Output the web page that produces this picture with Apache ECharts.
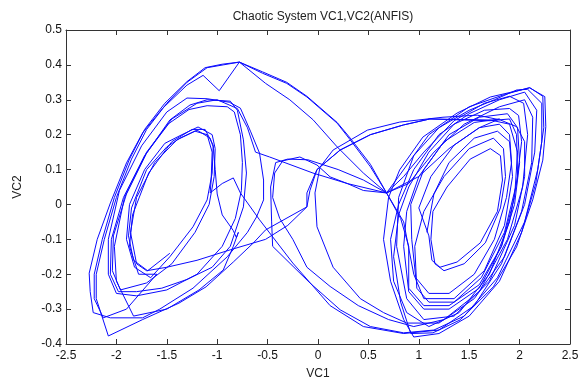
<!DOCTYPE html>
<html><head><meta charset="utf-8">
<script src="https://cdn.jsdelivr.net/npm/echarts@6/dist/echarts.min.js"></script>
<style>html,body{margin:0;padding:0;background:#fff}#c{width:584px;height:381px}</style>
</head><body><div id="c"></div>
<script>
const titleText = "Chaotic System VC1,VC2(ANFIS)";
const xName = "VC1", yName = "VC2";
const xTicks = [-2.5,-2,-1.5,-1,-0.5,0,0.5,1,1.5,2,2.5];
const yTicks = [-0.4,-0.3,-0.2,-0.1,0,0.1,0.2,0.3,0.4,0.5];

// trajectory segments (VC1, VC2), in drawing order
const leftInner = [[-1.47,-0.14],[-1.69,-0.19],[-1.83,-0.16],[-1.88,-0.09],[-1.85,-0.01],[-1.70,0.10],[-1.50,0.165],[-1.37,0.19],[-1.20,0.213],[-1.07,0.19],[-1.04,0.165],[-1.05,0.09],[-1.10,0.013],[-1.24,-0.064],[-1.47,-0.15],[-1.66,-0.21],[-1.82,-0.18],[-1.90,-0.10],[-1.87,0.0],[-1.72,0.10],[-1.52,0.175],[-1.35,0.20],[-1.19,0.222],[-1.05,0.20],[-1.02,0.16],[-1.03,0.08],[-1.08,0.0],[-1.22,-0.08],[-1.45,-0.17],[-1.70,-0.225]];
const leftMid = [[-1.96,-0.245],[-2.04,-0.19],[-2.03,-0.09],[-1.9,0.03],[-1.7,0.147],[-1.47,0.242],[-1.27,0.285],[-1.1,0.30],[-0.87,0.296],[-0.80,0.27],[-0.74,0.185],[-0.71,0.09],[-0.74,-0.007],[-0.87,-0.12],[-1.05,-0.18],[-1.3,-0.215],[-1.55,-0.24],[-1.8,-0.25],[-1.98,-0.25],
 [-2.06,-0.2],[-2.05,-0.1],[-1.93,0.02],[-1.72,0.14],[-1.48,0.232],[-1.28,0.272],[-1.1,0.283],[-0.9,0.28],[-0.83,0.265],[-0.77,0.2],[-0.75,0.12],[-0.76,0.04],[-0.82,-0.04],[-0.95,-0.12],[-1.2,-0.2],[-1.5,-0.245],[-1.8,-0.262],[-2.0,-0.255]];
const leftWide = [[-2.08,-0.2],[-2.08,-0.1],[-1.97,0.04],[-1.75,0.168],[-1.5,0.265],[-1.3,0.305],[-1.1,0.303],[-0.88,0.293],[-0.77,0.276],[-0.67,0.21],[-0.58,0.147],[-0.54,0.07],[-0.54,0.013],[-0.61,-0.036],[-0.70,-0.08],[-0.9,-0.15],[-1.24,-0.24],[-1.57,-0.30],[-1.74,-0.325],[-2.06,-0.325],[-2.23,-0.31]];
const arcUp1 = [[-2.26,-0.25],[-2.27,-0.197],[-2.19,-0.10],[-2.06,0.004],[-1.9,0.119],[-1.74,0.205],[-1.54,0.276],[-1.3,0.342],[-1.14,0.37],[-0.98,0.326],[-0.78,0.408]];
const bridge1 = [[-0.55,0.376],[-0.31,0.347],[-0.11,0.308],[0.19,0.233],[0.32,0.185],[0.52,0.108],[0.68,0.033]];
const rightLoopsA = [[0.82,-0.04],[0.9,-0.12],[0.9,-0.24],[1.05,-0.29],[1.3,-0.29],[1.6,-0.23],[1.82,-0.12],[1.95,0.0],[2.0,0.12],[1.98,0.22],[1.88,0.26],[1.6,0.25],[1.3,0.2],[1.05,0.1],[0.92,0.0],
 [0.93,-0.1],[0.97,-0.21],[1.1,-0.255],[1.3,-0.255],[1.55,-0.2],[1.75,-0.1],[1.87,0.02],[1.92,0.12],[1.9,0.2],[1.8,0.23],[1.6,0.22],[1.35,0.17],[1.12,0.08],[1.0,-0.01],
 [1.1,-0.09],[1.13,-0.16],[1.21,-0.18],[1.38,-0.165],[1.61,-0.11],[1.78,-0.02],[1.83,0.07],[1.81,0.14],[1.71,0.16],[1.51,0.13],[1.28,0.05],[1.14,-0.02],[1.12,-0.1],[1.16,-0.17],[1.25,-0.19],[1.45,-0.17],[1.66,-0.11],[1.81,-0.01],[1.86,0.08],[1.84,0.16],[1.74,0.19],[1.5,0.16],[1.25,0.08],[1.05,-0.02],
 [0.96,-0.12],[0.98,-0.24],[1.1,-0.28],[1.35,-0.28],[1.62,-0.21],[1.85,-0.08],[1.97,0.06],[2.02,0.18],[1.99,0.255],[1.9,0.275],[1.65,0.27],[1.35,0.23],[1.1,0.15],[0.9,0.05],[0.8,-0.03]];
const rightOuterA = [[0.75,-0.15],[0.82,-0.28],[0.92,-0.37],[1.14,-0.368],[1.41,-0.331],[1.74,-0.236],[1.97,-0.122],[2.13,0.013],[2.23,0.127],[2.26,0.223],[2.25,0.309],[2.10,0.334],[1.71,0.308],[1.38,0.262],[1.04,0.193],[0.81,0.099],[0.7,0.02],[0.65,-0.1],[0.72,-0.22],[0.85,-0.33],[0.95,-0.38],[1.2,-0.37],[1.5,-0.32],[1.8,-0.22],[2.02,-0.08],[2.16,0.06],[2.22,0.18],[2.22,0.29],[2.08,0.33],[1.97,0.328],[1.75,0.3],[1.5,0.27],[1.2,0.22],[0.95,0.14],[0.8,0.02],[0.78,-0.12],[0.88,-0.27],[1.05,-0.33],[1.35,-0.32],[1.7,-0.22],[1.95,-0.06],[2.05,0.08],[2.05,0.18]];
const bigArc = [[1.97,0.223],[1.81,0.242],[1.58,0.256],[1.24,0.25],[0.81,0.236],[0.49,0.213],[0.15,0.156],[0.02,0.107],[-0.03,0.033],[-0.01,-0.064],[0.15,-0.18],[0.42,-0.27],[0.65,-0.31],[0.88,-0.34]];
const rightLoopsB = [[1.2,-0.34],[1.55,-0.27],[1.85,-0.15],[2.05,0.0],[2.15,0.15],[2.17,0.27],[2.05,0.322],[1.8,0.3],[1.5,0.26],[1.2,0.2],[0.95,0.1],[0.8,0.0],[0.72,-0.1],[0.75,-0.22],[0.88,-0.31],[1.1,-0.35],[1.4,-0.31],[1.7,-0.2],[1.9,-0.05],[1.98,0.08],[1.97,0.2],[1.9,0.245]];
const crossLeft = [[1.7,0.24],[1.11,0.245],[0.85,0.228],[0.52,0.2],[0.22,0.156],[-0.01,0.1],[-0.11,0.033],[-0.11,-0.007],[-0.3,-0.06],[-0.52,-0.10],[-0.87,-0.13],[-1.2,-0.16],[-1.5,-0.18],[-1.7,-0.19],
 [-1.8,-0.17],[-1.86,-0.08],[-1.8,0.02],[-1.62,0.12],[-1.4,0.185],[-1.22,0.21],[-1.1,0.2],[-1.05,0.15],[-1.06,0.07],[-1.07,0.033],[-0.95,0.06],[-0.84,0.076]];
const bumpDown = [[-0.77,0.033],[-0.58,-0.044],[-0.25,-0.168],[0.12,-0.29],[0.45,-0.35],[0.85,-0.37]];
const rightLoopsC = [[1.2,-0.36],[1.55,-0.29],[1.82,-0.17],[2.02,-0.02],[2.12,0.12],[2.13,0.25],[2.05,0.3],[1.8,0.28],[1.45,0.23],[1.15,0.15],[0.9,0.06],[0.68,0.033]];
const middleLoop1 = [[0.45,0.04],[0.29,0.06],[0.12,0.079],[-0.01,0.113],[-0.18,0.136],[-0.35,0.125],[-0.43,0.09],[-0.45,0.02],[-0.38,-0.04],[-0.25,-0.1],[-0.11,-0.18],[0.12,-0.235],[0.4,-0.29],[0.7,-0.33],[0.95,-0.35]];
const rightLoopsD = [[1.25,-0.33],[1.6,-0.25],[1.88,-0.1],[2.03,0.05],[2.08,0.2],[2.04,0.29],[1.9,0.31],[1.65,0.29],[1.35,0.24],[1.05,0.15],[0.85,0.08],[0.68,0.033]];
const middleLoop2 = [[0.45,0.07],[0.2,0.1],[-0.1,0.128],[-0.3,0.13],[-0.42,0.12],[-0.47,0.05],[-0.46,-0.05],[-0.45,-0.12],[-0.08,-0.225],[0.22,-0.302],[0.52,-0.35],[0.85,-0.368]];
const rightOuterB = [[1.15,-0.36],[1.45,-0.32],[1.78,-0.21],[2.05,-0.05],[2.18,0.1],[2.24,0.22],[2.23,0.31],[2.1,0.335],[1.85,0.315],[1.5,0.28],[1.1,0.2],[0.8,0.08],[0.68,0.033]];
const bridge2 = [[0.52,0.115],[0.32,0.19],[0.19,0.235],[-0.11,0.31],[-0.31,0.35],[-0.55,0.38],[-0.78,0.408]];
const arcDown = [[-0.94,0.40],[-1.1,0.392],[-1.3,0.35],[-1.5,0.29],[-1.7,0.215],[-1.85,0.13],[-2.0,0.02],[-2.12,-0.1],[-2.2,-0.2],[-2.2,-0.27],[-2.08,-0.377]];
const spikeUp = [[-1.74,-0.33],[-1.38,-0.283],[-1.11,-0.236],[-0.84,-0.165],[-0.64,-0.11],[-0.52,-0.073],[-0.11,-0.007],[-0.08,0.04],[-0.01,0.1],[0.22,0.156],[0.52,0.2],[0.85,0.228],[1.11,0.245],[1.71,0.242],[1.9,0.23]];
const rightLoopsE = [[1.98,0.15],[1.95,0.02],[1.82,-0.12],[1.6,-0.24],[1.3,-0.3],[1.05,-0.3],[0.9,-0.25],[0.85,-0.12],[0.88,-0.02],[1.0,0.08],[1.25,0.18],[1.55,0.235],[1.8,0.245],[1.6,0.22],[1.3,0.16],[1.0,0.08],[0.68,0.033]];
const midLeft = [[0.29,0.06],[-0.05,0.09],[-0.48,0.136],[-0.62,0.15],[-0.7,0.22],[-0.8,0.275],[-1.0,0.3],[-1.2,0.29],[-1.45,0.245],[-1.7,0.15],[-1.92,0.02],[-2.02,-0.12],[-2.0,-0.22],[-1.83,-0.32],[-1.5,-0.3],[-1.18,-0.245],[-0.94,-0.188],[-0.84,-0.12],[-0.79,-0.08],[-0.81,-0.095],[-0.84,-0.075],
 [-0.95,-0.03],[-1.0,0.03],[-1.02,0.1],[-1.04,0.17],[-1.12,0.215],[-1.25,0.215],[-1.45,0.18],[-1.68,0.09],[-1.84,-0.03],[-1.87,-0.12],[-1.78,-0.2],[-1.6,-0.2],[-1.9,-0.3],[-2.13,-0.325],[-2.22,-0.27]];
const arcUp2 = [[-2.22,-0.2],[-2.14,-0.1],[-2.02,0.02],[-1.87,0.13],[-1.72,0.215],[-1.52,0.29],[-1.3,0.352],[-1.12,0.392],[-0.95,0.402],[-0.78,0.408]];
const bridge3 = [[-0.52,0.347],[-0.28,0.3],[-0.05,0.243],[0.19,0.165],[0.45,0.09],[0.68,0.033],[0.85,-0.05],[0.95,-0.2],[1.05,-0.27],[1.35,-0.27],[1.65,-0.19],[1.85,-0.06],[1.93,0.08],[1.9,0.18],[1.78,0.21],[1.55,0.19],[1.3,0.12],[1.15,0.03],[1.08,-0.08]];

const trajectory = [].concat(leftInner, leftMid, leftWide, arcUp1, bridge1, rightLoopsA, rightOuterA, bigArc, rightLoopsB, crossLeft, bumpDown, rightLoopsC, middleLoop1, rightLoopsD, middleLoop2, rightOuterB, bridge2, arcDown, spikeUp, rightLoopsE, midLeft, arcUp2, bridge3);

const FONT = "'Liberation Sans', Arial, sans-serif";
const fmt = v => String(+(+v).toFixed(1));
const axisCommon = {
  type: 'value',
  axisLine: { show: true, onZero: false, lineStyle: { color: '#333', width: 1 } },
  axisTick: { show: true, inside: true, length: 5, lineStyle: { color: '#333' } },
  splitLine: { show: false }
};
const chart = echarts.init(document.getElementById('c'), null, { renderer: 'canvas' });
chart.setOption({
  animation: false,
  backgroundColor: '#ffffff',
  title: { text: titleText, left: 318, top: 6, textAlign: 'center',
    textStyle: { fontFamily: FONT, fontSize: 12, fontWeight: 'normal', color: '#222' } },
  grid: { left: 66, right: 14, top: 30, bottom: 37, containLabel: false, outerBoundsMode: 'none' },
  xAxis: [
    Object.assign({}, axisCommon, { position: 'bottom', min: xTicks[0], max: xTicks[xTicks.length-1], interval: 0.5,
      name: xName, nameLocation: 'middle', nameGap: 24,
      nameTextStyle: { fontFamily: FONT, fontSize: 12, color: '#222' },
      axisLabel: { show: true, margin: 6, fontFamily: FONT, fontSize: 12, color: '#111', formatter: fmt } }),
    Object.assign({}, axisCommon, { position: 'top', min: xTicks[0], max: xTicks[xTicks.length-1], interval: 0.5,
      axisLabel: { show: false } })
  ],
  yAxis: [
    Object.assign({}, axisCommon, { position: 'left', min: yTicks[0], max: yTicks[yTicks.length-1], interval: 0.1,
      name: yName, nameLocation: 'middle', nameGap: 42, nameRotate: 90,
      nameTextStyle: { fontFamily: FONT, fontSize: 12, color: '#222' },
      axisLabel: { show: true, margin: 4, fontFamily: FONT, fontSize: 12, color: '#111', formatter: fmt } }),
    Object.assign({}, axisCommon, { position: 'right', min: yTicks[0], max: yTicks[yTicks.length-1], interval: 0.1,
      axisLabel: { show: false } })
  ],
  series: [{
    type: 'line', xAxisIndex: 0, yAxisIndex: 0,
    data: trajectory, showSymbol: false, symbol: 'none', smooth: false,
    lineStyle: { color: '#0a0aff', width: 1 },
    clip: true
  }]
});
</script></body></html>
